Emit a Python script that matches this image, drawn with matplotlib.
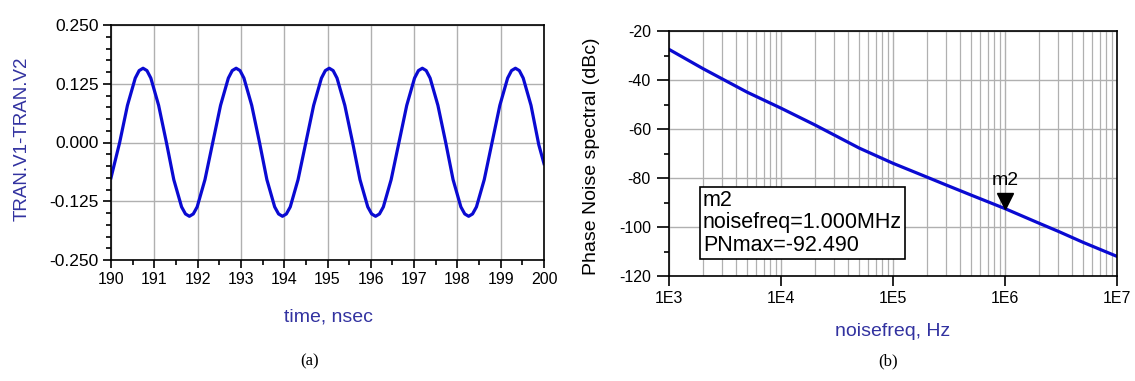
import matplotlib.pyplot as plt
from matplotlib.ticker import MultipleLocator, LogLocator, NullFormatter
from matplotlib.transforms import offset_copy

plt.rcParams['font.family'] = ['Liberation Sans', 'DejaVu Sans']
plt.rcParams['axes.unicode_minus'] = False

# (a) transient: TRAN.V1-TRAN.V2 vs time (nsec)
time_ns = [190.00, 190.20, 190.38, 190.56, 190.65, 190.74, 190.83, 190.92, 191.10, 191.28,
           191.45, 191.63, 191.72, 191.81, 191.90, 191.99, 192.17, 192.35, 192.53, 192.71,
           192.80, 192.89, 192.98, 193.07, 193.25, 193.43, 193.60, 193.78, 193.87, 193.96,
           194.05, 194.14, 194.32, 194.50, 194.68, 194.86, 194.95, 195.04, 195.13, 195.22,
           195.40, 195.58, 195.75, 195.93, 196.02, 196.11, 196.20, 196.29, 196.47, 196.65,
           196.83, 197.01, 197.10, 197.19, 197.28, 197.37, 197.55, 197.73, 197.90, 198.08,
           198.17, 198.26, 198.35, 198.44, 198.62, 198.80, 198.98, 199.16, 199.25, 199.34,
           199.43, 199.52, 199.70, 199.88, 200.00]
v_diff = [-0.075, 0.000, 0.079, 0.137, 0.153, 0.158, 0.153, 0.137, 0.079, 0.000,
          -0.079, -0.137, -0.152, -0.157, -0.152, -0.137, -0.079, 0.000, 0.079, 0.137,
          0.153, 0.158, 0.153, 0.137, 0.079, 0.000, -0.079, -0.137, -0.152, -0.157,
          -0.152, -0.137, -0.079, 0.000, 0.079, 0.137, 0.153, 0.158, 0.153, 0.137,
          0.079, 0.000, -0.079, -0.137, -0.152, -0.157, -0.152, -0.137, -0.079, 0.000,
          0.079, 0.137, 0.153, 0.158, 0.153, 0.137, 0.079, 0.000, -0.079, -0.137,
          -0.152, -0.157, -0.152, -0.137, -0.079, 0.000, 0.079, 0.137, 0.153, 0.158,
          0.153, 0.137, 0.079, -0.005, -0.045]
v_ticks = [0.250, 0.125, 0.000, -0.125, -0.250]

# (b) phase noise vs offset frequency
noisefreq = [1e3, 2e3, 3e3, 5e3, 1e4, 2e4, 3e4, 5e4, 1e5, 2e5, 3e5, 5e5,
             1e6, 2e6, 3e6, 5e6, 1e7]
pn_dbc = [-27.5, -35.3, -39.6, -45.0, -51.5, -58.3, -62.5, -67.8, -74.0, -79.6, -82.9, -87.0,
          -92.49, -98.4, -101.8, -106.3, -112.0]
freq_ticks = [1e3, 1e4, 1e5, 1e6, 1e7]
freq_labels = ['1E3', '1E4', '1E5', '1E6', '1E7']
marker_f = 1e6
marker_pn = -92.49

line_col = '#0a0ad2'
lab_col = '#3232a0'
grid_col = '#b0b0b0'

fig = plt.figure(figsize=(11.35, 3.81), dpi=100)
W, H = 1135, 381

def px_axes(x0, y0, x1, y1):
    return fig.add_axes([x0 / W, 1 - y1 / H, (x1 - x0) / W, (y1 - y0) / H])

# ---- (a) ----
ax1 = px_axes(111, 25, 544, 260)
ax1.plot(time_ns, v_diff, color=line_col, lw=2.3, solid_joinstyle='round')
ax1.set_xlim(190, 200)
ax1.set_ylim(-0.25, 0.25)
ax1.set_yticks(v_ticks)
ax1.set_yticklabels(['%.3f' % v for v in v_ticks])
ax1.xaxis.set_major_locator(MultipleLocator(1))
ax1.xaxis.set_minor_locator(MultipleLocator(0.5))
ax1.yaxis.set_minor_locator(MultipleLocator(0.025))
ax1.grid(True, which='major', color=grid_col, lw=1)
ax1.set_axisbelow(True)
ax1.tick_params(which='major', direction='out', length=6, width=1.2, labelsize=11.5, pad=3)
ax1.tick_params(which='minor', direction='out', length=3.5, width=1.2)
ax1.tick_params(axis='y', which='major', labelsize=12.5)
for s in ax1.spines.values():
    s.set_linewidth(1.2)

fig.text(22 / W, 1 - 139 / H, 'TRAN.V1-TRAN.V2', rotation=90, ha='center', va='center',
         fontsize=13.5, color=lab_col)
fig.text(328 / W, 1 - 317 / H, 'time, nsec', ha='center', va='center', fontsize=14, color=lab_col)
fig.text(310 / W, 1 - 361 / H, '(a)', ha='center', va='center', fontsize=12,
         family=['Liberation Serif', 'DejaVu Serif'])

# ---- (b) ----
ax2 = px_axes(669, 31, 1117, 276)
ax2.plot(noisefreq, pn_dbc, color=line_col, lw=2.3)
ax2.set_xscale('log')
ax2.set_xlim(1e3, 1e7)
ax2.set_ylim(-120, -20)
ax2.set_xticks(freq_ticks)
ax2.set_xticklabels(freq_labels)
ax2.xaxis.set_minor_locator(LogLocator(base=10, subs=range(2, 10)))
ax2.xaxis.set_minor_formatter(NullFormatter())
ax2.yaxis.set_major_locator(MultipleLocator(20))
ax2.yaxis.set_minor_locator(MultipleLocator(10))
ax2.grid(True, which='major', color=grid_col, lw=1)
ax2.grid(True, which='minor', axis='x', color=grid_col, lw=0.9)
ax2.set_axisbelow(True)
ax2.tick_params(which='major', direction='out', length=7, width=1.2, labelsize=11.5, pad=4)
ax2.tick_params(axis='x', which='minor', length=0)
ax2.tick_params(axis='y', which='minor', direction='out', length=3.5, width=1.2)
ax2.tick_params(axis='y', which='major', length=9)
for s in ax2.spines.values():
    s.set_linewidth(1.2)

# marker m2
tri_tr = offset_copy(ax2.transData, fig=fig, x=0, y=8, units='dots')
ax2.plot([marker_f], [marker_pn], marker='v', ms=12, color='black', transform=tri_tr, clip_on=False)
ax2.annotate('m2', (marker_f, marker_pn), xytext=(0, 20), textcoords='offset points',
             ha='center', va='center', fontsize=14)

fig.text(703 / W, 1 - 190 / H,
         'm2\nnoisefreq=%.3fMHz\nPNmax=%.3f' % (marker_f / 1e6, marker_pn),
         ha='left', va='top', fontsize=15.5, linespacing=1.08,
         bbox=dict(boxstyle='square,pad=0.15', fc='white', ec='black', lw=1.2))

fig.text(592 / W, 1 - 156 / H, 'Phase Noise spectral (dBc)', rotation=90, ha='center',
         va='center', fontsize=14)
fig.text(893 / W, 1 - 332 / H, 'noisefreq, Hz', ha='center', va='center', fontsize=14, color=lab_col)
fig.text(888 / W, 1 - 361 / H, '(b)', ha='center', va='center', fontsize=12,
         family=['Liberation Serif', 'DejaVu Serif'])

fig.savefig('out.png', dpi=100, facecolor='white')
